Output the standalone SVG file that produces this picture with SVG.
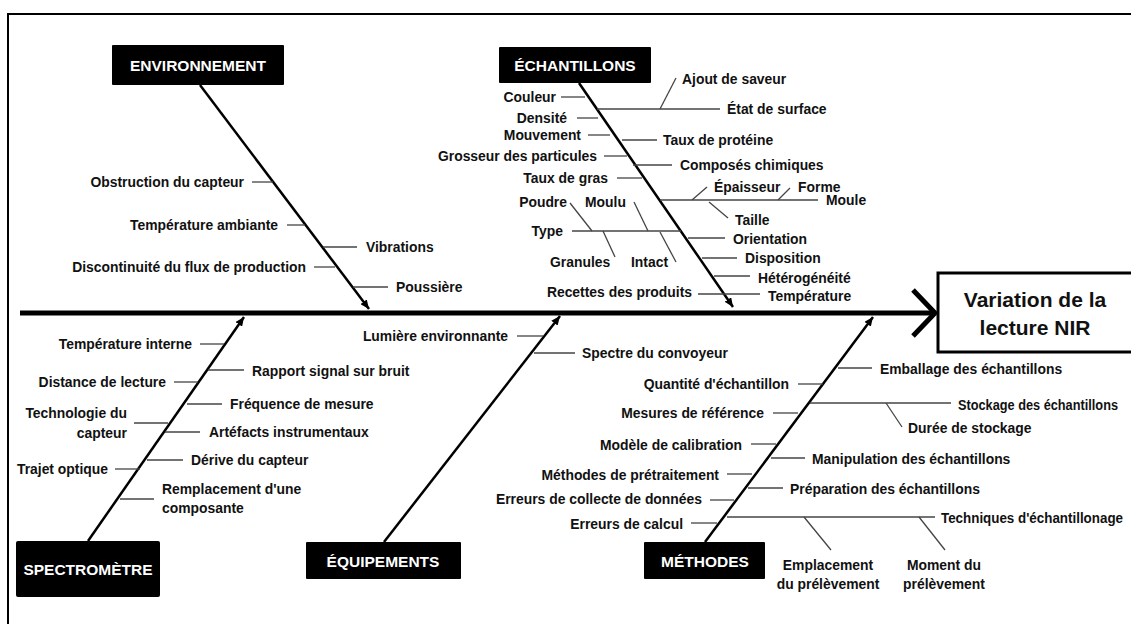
<svg xmlns="http://www.w3.org/2000/svg" width="1131" height="624" viewBox="0 0 1131 624">
  <style>
    text { font-family: "Liberation Sans", Arial, sans-serif; font-weight: bold; fill: #111; }
    .lbl { font-size: 13.9px; }
    .cat { font-size: 15.5px; fill: #fff; text-anchor: middle; }
    .eff { font-size: 21px; text-anchor: middle; }
    .e { text-anchor: end; }
    .m { text-anchor: middle; }
    .box { fill: #000; }
    .bone { stroke: #000; stroke-width: 2.5; fill: none; marker-end: url(#tip); }
    .tick { stroke: #444; stroke-width: 1.3; fill: none; }
  </style>
  <defs>
    <marker id="tip" markerUnits="userSpaceOnUse" markerWidth="10" markerHeight="8" refX="9" refY="4" orient="auto">
      <path d="M0,0 L9,4 L0,8 z" fill="#000"/>
    </marker>
  </defs>

  <!-- page background and frame -->
  <rect x="0" y="0" width="1131" height="624" fill="#fff"/>
  <rect x="8" y="14" width="1140" height="640" fill="none" stroke="#000" stroke-width="2"/>

  <!-- spine, category bones and sub-cause ticks -->
  <g id="connectors">
    <line x1="20" y1="313" x2="932" y2="313" stroke="#000" stroke-width="5"/>
    <polyline points="913,290 935,313 913,336" fill="none" stroke="#000" stroke-width="5"/>

    <line class="bone" x1="200" y1="85" x2="369" y2="309"/>
    <line class="bone" x1="579" y1="83" x2="733" y2="307"/>
    <line class="bone" x1="88" y1="541" x2="244" y2="317"/>
    <line class="bone" x1="384" y1="542" x2="560" y2="316"/>
    <line class="bone" x1="705" y1="542" x2="873" y2="317"/>

    <!-- environnement -->
    <line class="tick" x1="252" y1="182" x2="273" y2="182"/>
    <line class="tick" x1="287" y1="225" x2="305" y2="225"/>
    <line class="tick" x1="323" y1="247" x2="357" y2="247"/>
    <line class="tick" x1="314" y1="267" x2="335" y2="267"/>
    <line class="tick" x1="353" y1="287" x2="388" y2="287"/>

    <!-- échantillons -->
    <line class="tick" x1="561" y1="97" x2="585" y2="97"/>
    <line class="tick" x1="577" y1="118" x2="598" y2="118"/>
    <line class="tick" x1="588" y1="135" x2="610" y2="135"/>
    <line class="tick" x1="597" y1="109" x2="720" y2="109"/>
    <line class="tick" x1="660" y1="109" x2="676" y2="78"/>
    <line class="tick" x1="622" y1="140" x2="657" y2="140"/>
    <line class="tick" x1="604" y1="156" x2="627" y2="156"/>
    <line class="tick" x1="633" y1="165" x2="672" y2="165"/>
    <line class="tick" x1="617" y1="178" x2="642" y2="178"/>
    <line class="tick" x1="660" y1="200" x2="818" y2="200"/>
    <line class="tick" x1="692" y1="200" x2="707" y2="187"/>
    <line class="tick" x1="778" y1="200" x2="790" y2="188"/>
    <line class="tick" x1="709" y1="202" x2="728" y2="218"/>
    <line class="tick" x1="572" y1="231" x2="681" y2="231"/>
    <line class="tick" x1="570" y1="203" x2="592" y2="231"/>
    <line class="tick" x1="603" y1="231" x2="615" y2="257"/>
    <line class="tick" x1="634" y1="202" x2="648" y2="231"/>
    <line class="tick" x1="660" y1="232" x2="676" y2="262"/>
    <line class="tick" x1="688" y1="238" x2="725" y2="238"/>
    <line class="tick" x1="702" y1="258" x2="737" y2="258"/>
    <line class="tick" x1="714" y1="276" x2="750" y2="276"/>
    <line class="tick" x1="698" y1="294" x2="760" y2="294"/>

    <!-- spectromètre -->
    <line class="tick" x1="200" y1="344" x2="224" y2="344"/>
    <line class="tick" x1="208" y1="370" x2="244" y2="370"/>
    <line class="tick" x1="174" y1="382" x2="198" y2="382"/>
    <line class="tick" x1="187" y1="404" x2="222" y2="404"/>
    <line class="tick" x1="134" y1="423" x2="168" y2="423"/>
    <line class="tick" x1="165" y1="432" x2="200" y2="432"/>
    <line class="tick" x1="147" y1="460" x2="183" y2="460"/>
    <line class="tick" x1="115" y1="469" x2="140" y2="469"/>
    <line class="tick" x1="120" y1="499" x2="154" y2="499"/>

    <!-- équipements -->
    <line class="tick" x1="517" y1="336" x2="543" y2="336"/>
    <line class="tick" x1="534" y1="353" x2="575" y2="353"/>

    <!-- méthodes -->
    <line class="tick" x1="838" y1="368" x2="872" y2="368"/>
    <line class="tick" x1="798" y1="384" x2="823" y2="384"/>
    <line class="tick" x1="810" y1="403" x2="951" y2="403"/>
    <line class="tick" x1="886" y1="403" x2="902" y2="427"/>
    <line class="tick" x1="773" y1="413" x2="798" y2="413"/>
    <line class="tick" x1="751" y1="444" x2="776" y2="444"/>
    <line class="tick" x1="771" y1="458" x2="805" y2="458"/>
    <line class="tick" x1="727" y1="474" x2="752" y2="474"/>
    <line class="tick" x1="748" y1="488" x2="783" y2="488"/>
    <line class="tick" x1="710" y1="500" x2="734" y2="500"/>
    <line class="tick" x1="727" y1="517" x2="935" y2="517"/>
    <line class="tick" x1="804" y1="517" x2="831" y2="550"/>
    <line class="tick" x1="919" y1="517" x2="945" y2="550"/>
    <line class="tick" x1="691" y1="523" x2="717" y2="523"/>
  </g>

  <!-- effect -->
  <g id="effect">
    <rect x="938" y="273" width="220" height="79" fill="#fff" stroke="#000" stroke-width="3"/>
    <text class="eff" x="1035" y="307">Variation de la</text>
    <text class="eff" x="1035" y="335">lecture NIR</text>
  </g>

  <g id="environnement">
    <rect class="box" x="112" y="45" width="172" height="40" rx="1"/>
    <text class="cat" x="198" y="71">ENVIRONNEMENT</text>
    <text class="lbl e" x="244" y="187">Obstruction du capteur</text>
    <text class="lbl e" x="278" y="230">Température ambiante</text>
    <text class="lbl" x="366" y="252">Vibrations</text>
    <text class="lbl e" x="306" y="272">Discontinuité du flux de production</text>
    <text class="lbl" x="396" y="292">Poussière</text>
  </g>

  <g id="echantillons">
    <rect class="box" x="499" y="47" width="152" height="36" rx="1"/>
    <text class="cat" x="575" y="71">ÉCHANTILLONS</text>
    <text class="lbl" x="682" y="84">Ajout de saveur</text>
    <text class="lbl e" x="556" y="102">Couleur</text>
    <text class="lbl" x="727" y="114">État de surface</text>
    <text class="lbl e" x="567" y="123">Densité</text>
    <text class="lbl e" x="581" y="140">Mouvement</text>
    <text class="lbl" x="663" y="145">Taux de protéine</text>
    <text class="lbl e" x="597" y="161">Grosseur des particules</text>
    <text class="lbl" x="680" y="170">Composés chimiques</text>
    <text class="lbl e" x="608" y="183">Taux de gras</text>
    <text class="lbl" x="714" y="192">Épaisseur</text>
    <text class="lbl" x="798" y="192">Forme</text>
    <text class="lbl" x="826" y="205">Moule</text>
    <text class="lbl" x="735" y="225">Taille</text>
    <text class="lbl e" x="567" y="207">Poudre</text>
    <text class="lbl" x="585" y="207">Moulu</text>
    <text class="lbl e" x="563" y="236">Type</text>
    <text class="lbl" x="733" y="244">Orientation</text>
    <text class="lbl" x="745" y="263">Disposition</text>
    <text class="lbl" x="550" y="267">Granules</text>
    <text class="lbl" x="631" y="267">Intact</text>
    <text class="lbl" x="758" y="283">Hétérogénéité</text>
    <text class="lbl e" x="692" y="297">Recettes des produits</text>
    <text class="lbl" x="768" y="301">Température</text>
  </g>

  <g id="spectrometre">
    <rect class="box" x="16" y="541" width="144" height="56" rx="2"/>
    <text class="cat" x="88" y="575">SPECTROMÈTRE</text>
    <text class="lbl e" x="192" y="349">Température interne</text>
    <text class="lbl" x="252" y="376">Rapport signal sur bruit</text>
    <text class="lbl e" x="166" y="387">Distance de lecture</text>
    <text class="lbl" x="230" y="409">Fréquence de mesure</text>
    <text class="lbl e" x="127" y="418">Technologie du</text>
    <text class="lbl e" x="127" y="438">capteur</text>
    <text class="lbl" x="209" y="437">Artéfacts instrumentaux</text>
    <text class="lbl" x="191" y="465">Dérive du capteur</text>
    <text class="lbl e" x="108" y="474">Trajet optique</text>
    <text class="lbl" x="162" y="494">Remplacement d'une</text>
    <text class="lbl" x="162" y="513">composante</text>
  </g>

  <g id="equipements">
    <rect class="box" x="306" y="542" width="155" height="37" rx="1"/>
    <text class="cat" x="383" y="567">ÉQUIPEMENTS</text>
    <text class="lbl e" x="508" y="341">Lumière environnante</text>
    <text class="lbl" x="582" y="358">Spectre du convoyeur</text>
  </g>

  <g id="methodes">
    <rect class="box" x="644" y="542" width="121" height="37" rx="1"/>
    <text class="cat" x="705" y="567">MÉTHODES</text>
    <text class="lbl" x="880" y="374">Emballage des échantillons</text>
    <text class="lbl e" x="789" y="389">Quantité d'échantillon</text>
    <text class="lbl" x="958" y="410" textLength="160" lengthAdjust="spacingAndGlyphs">Stockage des échantillons</text>
    <text class="lbl e" x="764" y="418">Mesures de référence</text>
    <text class="lbl" x="908" y="433">Durée de stockage</text>
    <text class="lbl e" x="742" y="450">Modèle de calibration</text>
    <text class="lbl" x="812" y="464">Manipulation des échantillons</text>
    <text class="lbl e" x="719" y="480">Méthodes de prétraitement</text>
    <text class="lbl" x="790" y="494">Préparation des échantillons</text>
    <text class="lbl e" x="702" y="504">Erreurs de collecte de données</text>
    <text class="lbl" x="941" y="523" textLength="182" lengthAdjust="spacingAndGlyphs">Techniques d'échantillonage</text>
    <text class="lbl e" x="683" y="529">Erreurs de calcul</text>
    <text class="lbl m" x="828" y="570">Emplacement</text>
    <text class="lbl m" x="828" y="589">du prélèvement</text>
    <text class="lbl m" x="944" y="570">Moment du</text>
    <text class="lbl m" x="944" y="589">prélèvement</text>
  </g>
</svg>
